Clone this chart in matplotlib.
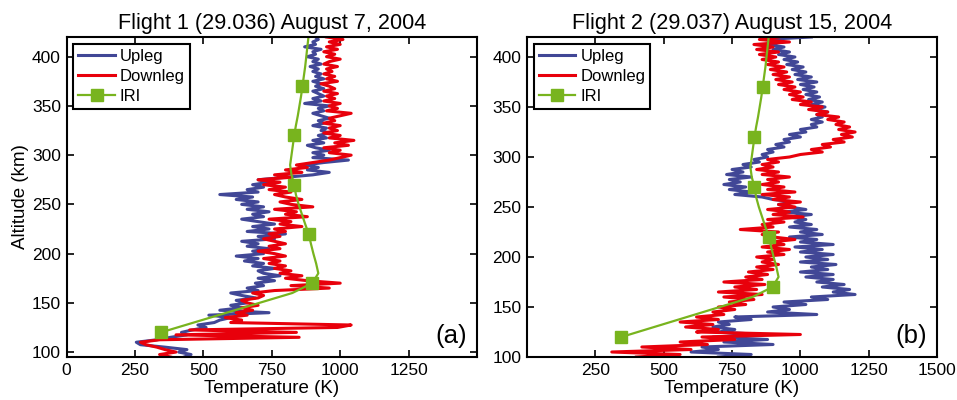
import numpy as np
import matplotlib
matplotlib.use('Agg')
from matplotlib import pyplot as plt

plt.rcParams['font.family'] = ['Liberation Sans', 'DejaVu Sans']

# altitude grids (km), 2.5 km sampling
alt_a = np.arange(95, 420.1, 2.5)
alt_b = np.arange(100, 420.1, 2.5)

# flight 1 temperatures (K)
up_a = [430, 455, 410, 440, 360, 270, 255, 330, 380, 440,
        420, 460, 510, 480, 540, 560, 600, 520, 740, 560,
        640, 600, 660, 620, 690, 640, 600, 700, 660, 720,
        690, 760, 700, 780, 720, 700, 760, 680, 720, 650,
        700, 620, 720, 680, 740, 660, 700, 640, 760, 700,
        800, 660, 740, 680, 760, 700, 640, 720, 680, 740,
        660, 720, 640, 700, 620, 680, 560, 700, 660, 720,
        680, 740, 700, 800, 900, 960, 880, 920, 870, 940,
        1030, 900, 940, 900, 960, 910, 880, 940, 900, 950,
        920, 960, 930, 950, 900, 940, 920, 960, 930, 900,
        940, 920, 960, 870, 930, 900, 940, 920, 900, 940,
        910, 930, 900, 940, 910, 930, 900, 920, 890, 930,
        900, 920, 880, 910, 900, 930, 870, 910, 900, 920,
        910]
down_a = [380, 340, 400, 360, 330, 290, 270, 340, 850, 400,
          840, 450, 990, 1040, 600, 640, 580, 660, 620, 680,
          640, 700, 660, 640, 700, 720, 680, 760, 960, 820,
          1000, 880, 800, 860, 780, 820, 760, 800, 740, 780,
          720, 800, 760, 700, 780, 740, 800, 760, 720, 780,
          740, 800, 760, 860, 780, 820, 740, 880, 800, 840,
          760, 900, 820, 780, 860, 800, 760, 820, 740, 800,
          720, 780, 700, 820, 760, 860, 800, 880, 840, 900,
          960, 1000, 1040, 960, 1000, 940, 1030, 980, 1050, 960,
          1000, 940, 990, 960, 1000, 940, 980, 960, 1000, 1040,
          950, 990, 960, 1000, 940, 980, 950, 990, 940, 980,
          960, 930, 990, 950, 980, 940, 970, 950, 990, 940,
          960, 1000, 950, 980, 940, 990, 950, 1000, 960, 1010,
          950]

# flight 2 temperatures (K)
up_b = [700, 820, 600, 700, 640, 900, 720, 880, 680, 860,
        700, 760, 680, 740, 700, 820, 760, 1060, 880, 960,
        900, 1020, 940, 1100, 1040, 1200, 1120, 1180, 1080, 1160,
        1060, 1120, 1020, 1120, 1000, 1100, 1040, 1130, 1000, 1100,
        1020, 1120, 1000, 1080, 980, 1120, 1000, 1060, 960, 1080,
        1000, 1060, 960, 1040, 980, 1020, 960, 1040, 940, 1020,
        960, 920, 980, 900, 860, 760, 820, 740, 800, 720,
        780, 740, 820, 730, 790, 750, 820, 790, 850, 830,
        880, 860, 900, 880, 940, 910, 960, 940, 1000, 960,
        1020, 1000, 1060, 1040, 1080, 1040, 1080, 1060, 1100, 1050,
        1090, 1040, 1080, 1030, 1070, 1020, 1060, 1010, 1050, 1000,
        1060, 990, 1040, 980, 1020, 970, 1010, 950, 990, 940,
        980, 920, 960, 900, 940, 880, 930, 870, 1040]
down_b = [400, 560, 310, 600, 420, 660, 560, 760, 640, 1000,
          620, 700, 580, 680, 560, 700, 620, 720, 680, 760,
          700, 800, 740, 830, 720, 860, 700, 840, 760, 870,
          720, 860, 800, 880, 810, 900, 840, 920, 860, 900,
          840, 940, 880, 960, 860, 940, 890, 980, 900, 860,
          920, 780, 900, 860, 940, 880, 1010, 900, 960, 880,
          980, 920, 1000, 900, 960, 860, 980, 880, 940, 860,
          920, 880, 960, 860, 920, 840, 900, 860, 920, 880,
          960, 1000, 1080, 1040, 1110, 1080, 1160, 1120, 1190, 1150,
          1200, 1140, 1180, 1130, 1160, 1100, 1140, 1060, 1100, 1030,
          1080, 1000, 1040, 970, 1010, 960, 1000, 940, 980, 920,
          970, 910, 960, 900, 950, 890, 940, 880, 920, 860,
          910, 850, 920, 840, 900, 830, 960, 850, 920]

# IRI model, same for both flights
iri_alt = [120, 130, 140, 150, 160, 170, 180, 190, 200, 210,
           220, 230, 240, 250, 260, 270, 280, 290, 300, 310,
           320, 330, 340, 350, 360, 370, 380, 390, 400, 410, 420]
iri_t = [345, 465, 585, 705, 825, 898, 920, 912, 902, 893,
         885, 872, 860, 848, 838, 832, 822, 817, 822, 827,
         832, 838, 845, 851, 857, 862, 867, 872, 876, 880, 884]

blue = '#414796'
red = '#e8000b'
green = '#78b41e'

fig = plt.figure(figsize=(9.57, 4.0), dpi=100)
ax1 = fig.add_axes([0.0695, 0.1075, 0.429, 0.8])
ax2 = fig.add_axes([0.5507, 0.1075, 0.4285, 0.8])

panels = [
    (ax1, alt_a, up_a, down_a, 'Flight 1 (29.036) August 7, 2004', '(a)',
     (0, 1500), (95, 420), [0, 250, 500, 750, 1000, 1250]),
    (ax2, alt_b, up_b, down_b, 'Flight 2 (29.037) August 15, 2004', '(b)',
     (0, 1500), (100, 420), [250, 500, 750, 1000, 1250, 1500]),
]

for ax, alt, up, down, title, tag, xl, yl, xt in panels:
    ax.plot(up, alt, color=blue, lw=2.2, label='Upleg')
    ax.plot(down, alt, color=red, lw=2.2, label='Downleg')
    ax.plot(iri_t, iri_alt, color=green, lw=1.6, marker='s', ms=8,
            markevery=[0, 5, 10, 15, 20, 25], label='IRI')
    ax.set_xlim(xl)
    ax.set_ylim(yl)
    ax.set_xticks(xt)
    ax.set_yticks([100, 150, 200, 250, 300, 350, 400])
    ax.tick_params(direction='in', top=True, right=True, labelsize=12.5,
                   length=5, width=1.2, pad=4)
    for s in ax.spines.values():
        s.set_linewidth(1.5)
    ax.set_title(title, fontsize=15.6, pad=6)
    ax.set_xlabel('Temperature (K)', fontsize=13.5, labelpad=2)
    ax.text(0.976, 0.044, tag, transform=ax.transAxes, fontsize=18.5,
            ha='right', va='baseline')
    leg = ax.legend(loc='upper left', fontsize=12, fancybox=False,
                    framealpha=1, edgecolor='black', borderpad=0.3,
                    handlelength=2.2, handletextpad=0.3,
                    labelspacing=0.3, borderaxespad=0.4)
    leg.get_frame().set_linewidth(1.5)

ax1.set_ylabel('Altitude (km)', fontsize=13.5, labelpad=2)

plt.savefig('out.png', dpi=100)
